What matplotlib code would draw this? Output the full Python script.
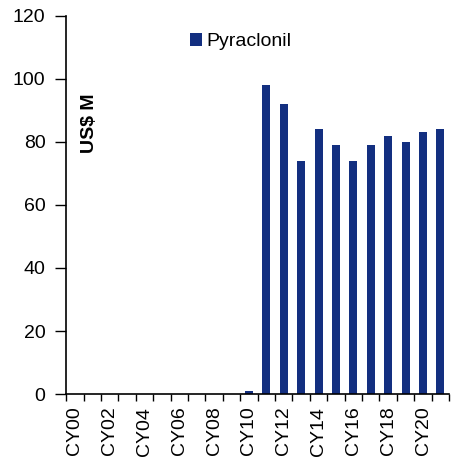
import numpy as np
import matplotlib.pyplot as plt

# Datos
years = ['CY00', 'CY01', 'CY02', 'CY03', 'CY04', 'CY05', 'CY06', 'CY07',
         'CY08', 'CY09', 'CY10', 'CY11', 'CY12', 'CY13', 'CY14', 'CY15',
         'CY16', 'CY17', 'CY18', 'CY19', 'CY20', 'CY21']
sales = [0, 0, 0, 0, 0, 0, 0, 0, 0, 0, 1, 98, 92, 74, 84, 79, 74, 79, 82, 80, 83, 84]
series_name = 'Pyraclonil'
y_label = 'US$ M'

plt.rcParams['font.family'] = ['Liberation Sans', 'DejaVu Sans']

fig = plt.figure(figsize=(4.63, 4.61), dpi=100)
ax = fig.add_axes([0.143, 0.145, 0.827, 0.821])

x = np.arange(len(years))
ax.bar(x, sales, width=0.46, color='#132f80', label=series_name)

# Ejes
ax.set_xlim(-0.5, len(years) - 0.5)
ax.set_ylim(0, 120)
ax.set_yticks(np.arange(0, 121, 20))
ax.tick_params(axis='y', labelsize=14, length=8, direction='out', width=1, pad=7)

ax.set_xticks(x[::2])
ax.set_xticklabels(years[::2], rotation=90, fontsize=14)
ax.set_xticks(np.arange(-0.5, len(years), 1), minor=True)
ax.tick_params(axis='x', which='major', length=0, pad=9)
ax.tick_params(axis='x', which='minor', length=5, direction='out', width=1)

for s in ['top', 'right']:
    ax.spines[s].set_visible(False)
for s in ['left', 'bottom']:
    ax.spines[s].set_linewidth(1.2)

# Etiqueta del eje y dentro del grafico
ax.text(0.062, 0.715, y_label, transform=ax.transAxes, rotation=90,
        fontsize=14, fontweight='bold', ha='center', va='center')

ax.legend(loc='upper center', bbox_to_anchor=(0.455, 1.0), frameon=False,
          fontsize=14, handlelength=0.62, handleheight=0.62, handletextpad=0.2)

fig.savefig('out.png', dpi=100)
